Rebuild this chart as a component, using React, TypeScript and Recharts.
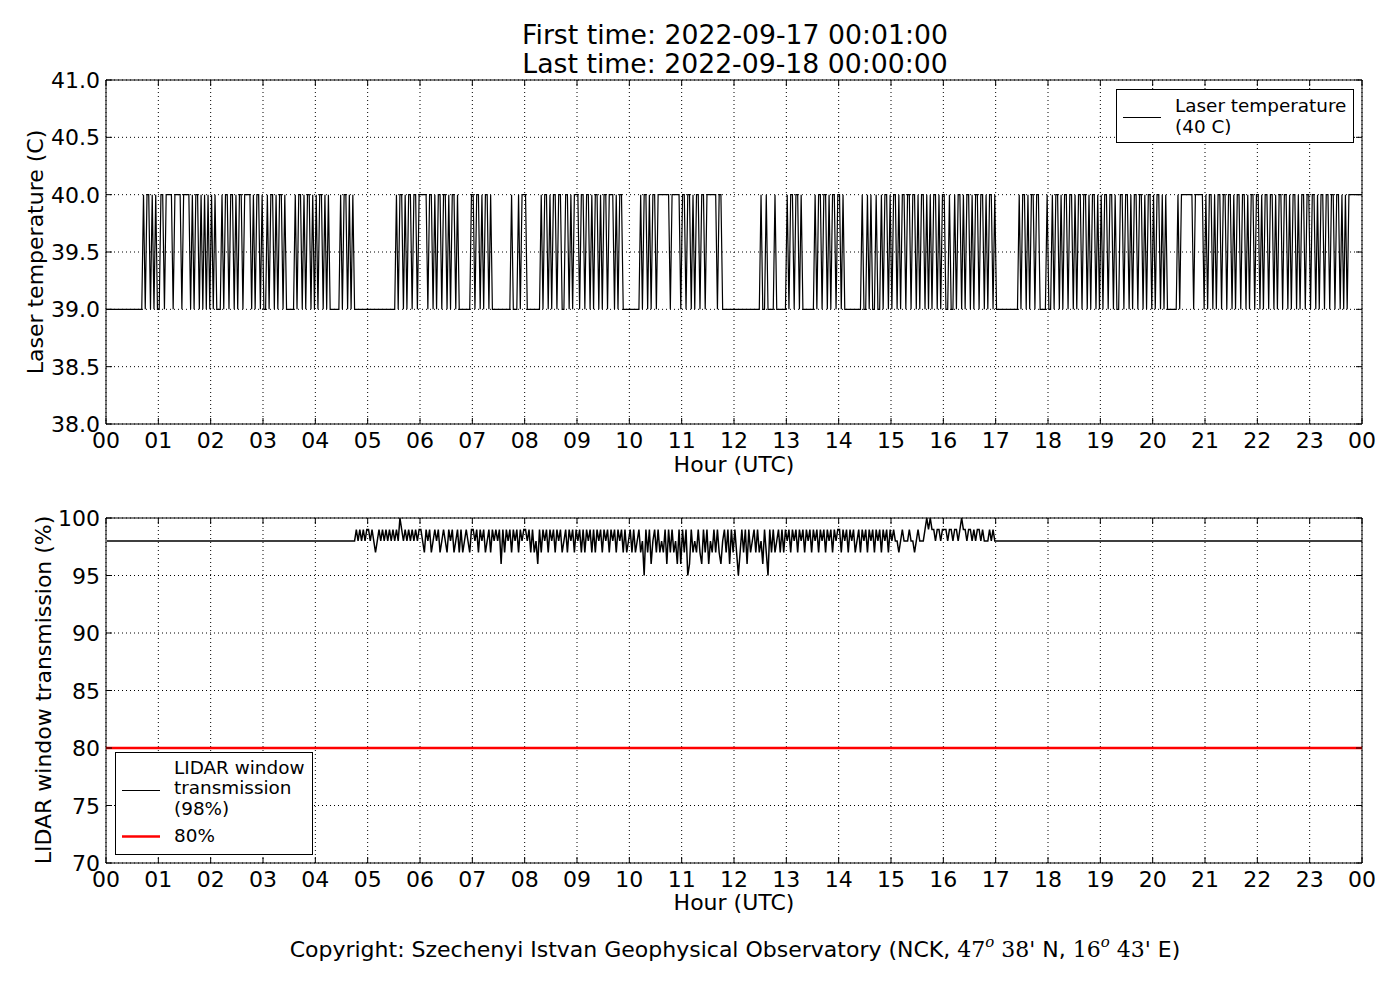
import { CartesianGrid, Line, LineChart, ReferenceArea, ReferenceLine, XAxis, YAxis } from "recharts";

const FONT = "'DejaVu Sans', sans-serif";
const SERIF = "'DejaVu Serif', serif";

const hourTicks = [0, 1, 2, 3, 4, 5, 6, 7, 8, 9, 10, 11, 12, 13, 14, 15, 16, 17, 18, 19, 20, 21, 22, 23, 24];
const tempTicks = [38, 38.5, 39, 39.5, 40, 40.5, 41];
const transTicks = [70, 75, 80, 85, 90, 95, 100];

// laser temperature, one string per hour, one char per 2 minutes: 1 = 40 C, 0 = 39 C
const tempHours = [
  "000000000000000000000101101010",
  "011011110111101111010110101010",
  "101000101101101011011110101101",
  "001011010110100000101101011010",
  "101101010000001011010100000000",
  "000000000000000010110101101101",
  "111101101011011010110100000001",
  "101101011010000000000010001011",
  "100000000101101011011001101011",
  "101101101011010110111010110000",
  "000000101101011011111110111110",
  "110110101101101111110110000000",
  "000000000000000100100001000000",
  "101101101000000010110110101101",
  "101000000000010010100100101101",
  "011010110110110101101010110101",
  "100100101101011010110110101101",
  "000000000000010110101101100001",
  "001011010110110101101101011010",
  "101101101001101101011011010110",
  "101101010000001011111110111110",
  "101101011011011010110110101101",
  "101011011010110110101101011011",
  "011010110110110110101011111111",
];
const tempLast = 40;

// window transmission, one string per hour, one char per 2 minutes: value = 95 + digit
const transHours = [
  "333333333333333333333333333333",
  "333333333333333333333333333333",
  "333333333333333333333333333333",
  "333333333333333333333333333333",
  "333333333333333333333334343434",
  "434323434343434343543434343434",
  "432434234342343243423424234324",
  "434243423424343414243424342434",
  "434242314243424342434234243424",
  "342424342424342434243424342423",
  "424234230424134242324142423141",
  "424014232421424132424213424142",
  "420242414234242314204242342424",
  "342434243424342434243424342434",
  "424342434234243424342434243424",
  "343323433343323433345454434434",
  "443443443454434434344343334343",
  "333333333333333333333333333333",
  "333333333333333333333333333333",
  "333333333333333333333333333333",
  "333333333333333333333333333333",
  "333333333333333333333333333333",
  "333333333333333333333333333333",
  "333333333333333333333333333333",
];
const transLast = 98;
const threshold = 80;

const tempData = tempHours.flatMap((s, h) =>
  s.split("").map((c, j) => ({ t: h + (j * 2 + 1) / 60, v: c === "1" ? 40 : 39 }))
);
tempData.push({ t: 24, v: tempLast });

const transData = transHours.flatMap((s, h) =>
  s.split("").map((c, j) => ({ t: h + (j * 2 + 1) / 60, v: 95 + Number(c) }))
);
transData.push({ t: 24, v: transLast });

const PW = 1256;

function HourTick(props: any) {
  const { x, y, payload, plotH } = props;
  const label = String(payload.value % 24).padStart(2, "0");
  return (
    <g>
      <line x1={x} x2={x} y1={y} y2={y - 6} stroke="#000" />
      <line x1={x} x2={x} y1={y - plotH} y2={y - plotH + 6} stroke="#000" />
      <text x={x} y={y + 24} textAnchor="middle" fontSize={22} fontFamily={FONT} fill="#000">
        {label}
      </text>
    </g>
  );
}

function ValueTick(props: any) {
  const { x, y, payload, digits } = props;
  return (
    <g>
      <line x1={x} x2={x + 6} y1={y} y2={y} stroke="#000" />
      <line x1={x + PW - 6} x2={x + PW} y1={y} y2={y} stroke="#000" />
      <text x={x - 6} y={y + 8} textAnchor="end" fontSize={22} fontFamily={FONT} fill="#000">
        {payload.value.toFixed(digits)}
      </text>
    </g>
  );
}

function Panel({ data, top, height, marginTop, axisH, domain, ticks, digits, plotH, children }: any) {
  return (
    <div style={{ position: "absolute", left: 0, top }}>
      <LineChart width={1400} height={height} data={data} margin={{ top: marginTop, right: 38, bottom: 0, left: 0 }}>
        <CartesianGrid stroke="#000" strokeDasharray="1 3" strokeWidth={1} />
        <XAxis
          dataKey="t"
          type="number"
          domain={[0, 24]}
          ticks={hourTicks}
          interval={0}
          height={axisH}
          tickSize={0}
          tickMargin={0}
          tickLine={false}
          axisLine={false}
          tick={(p: any) => <HourTick {...p} plotH={plotH} />}
        />
        <YAxis
          type="number"
          domain={domain}
          ticks={ticks}
          interval={0}
          width={106}
          allowDataOverflow
          tickSize={0}
          tickMargin={0}
          tickLine={false}
          axisLine={false}
          tick={(p: any) => <ValueTick {...p} digits={digits} />}
        />
        {children}
        <ReferenceArea x1={0} x2={24} y1={domain[0]} y2={domain[1]} fill="none" fillOpacity={0} stroke="#000" strokeWidth={1} />
      </LineChart>
    </div>
  );
}

export default function App() {
  return (
    <div style={{ position: "absolute", left: 0, top: 0, width: 1400, height: 1000, background: "#fff" }}>
      <Panel data={tempData} top={0} height={480} marginTop={80} axisH={56} domain={[38, 41]} ticks={tempTicks} digits={1} plotH={344}>
        <Line type="linear" dataKey="v" stroke="#000" strokeWidth={1.2} dot={false} isAnimationActive={false} />
      </Panel>
      <Panel data={transData} top={480} height={440} marginTop={38} axisH={57} domain={[70, 100]} ticks={transTicks} digits={0} plotH={345}>
        <Line type="linear" dataKey="v" stroke="#000" strokeWidth={1.5} dot={false} isAnimationActive={false} />
        <ReferenceLine y={threshold} stroke="#ff0000" strokeWidth={2.5} />
      </Panel>
      <svg width={1400} height={1000} style={{ position: "absolute", left: 0, top: 0, pointerEvents: "none" }} fontFamily={FONT}>
        <text x={735} y={44} textAnchor="middle" fontSize={26.7}>First time: 2022-09-17 00:01:00</text>
        <text x={735} y={73} textAnchor="middle" fontSize={26.7}>Last time: 2022-09-18 00:00:00</text>
        <text x={734} y={472} textAnchor="middle" fontSize={22}>Hour (UTC)</text>
        <text x={734} y={910} textAnchor="middle" fontSize={22}>Hour (UTC)</text>
        <text transform="translate(43,252) rotate(-90)" textAnchor="middle" fontSize={22}>Laser temperature (C)</text>
        <text transform="translate(51,690) rotate(-90)" textAnchor="middle" fontSize={22}>LIDAR window transmission (%)</text>

        <rect x={1116.5} y={89.5} width={237} height={53} fill="#fff" stroke="#000" />
        <line x1={1123} x2={1161} y1={117.5} y2={117.5} stroke="#000" />
        <text x={1175} y={112} fontSize={18.4}>Laser temperature</text>
        <text x={1175} y={132.5} fontSize={18.4}>(40 C)</text>

        <rect x={115.5} y={752.5} width={197} height={102} fill="#fff" stroke="#000" />
        <line x1={122} x2={160} y1={790.5} y2={790.5} stroke="#000" />
        <text x={174} y={773.5} fontSize={18.4}>LIDAR window</text>
        <text x={174} y={794} fontSize={18.4}>transmission</text>
        <text x={174} y={814.5} fontSize={18.4}>(98%)</text>
        <line x1={122} x2={160} y1={836.5} y2={836.5} stroke="#ff0000" strokeWidth={2.5} />
        <text x={174} y={842} fontSize={18.4}>80%</text>

        <text x={735} y={957} textAnchor="middle" fontSize={22}>
          Copyright: Szechenyi Istvan Geophysical Observatory (NCK,{" "}
          <tspan fontFamily={SERIF}>47</tspan>
          <tspan fontFamily={SERIF} fontStyle="italic" fontSize={15} dy={-10}>o</tspan>
          <tspan fontFamily={SERIF} dy={10}>{"  38'"}</tspan>
          <tspan> N, </tspan>
          <tspan fontFamily={SERIF}>16</tspan>
          <tspan fontFamily={SERIF} fontStyle="italic" fontSize={15} dy={-10}>o</tspan>
          <tspan fontFamily={SERIF} dy={10}>{"  43'"}</tspan>
          <tspan> E)</tspan>
        </text>
      </svg>
    </div>
  );
}
